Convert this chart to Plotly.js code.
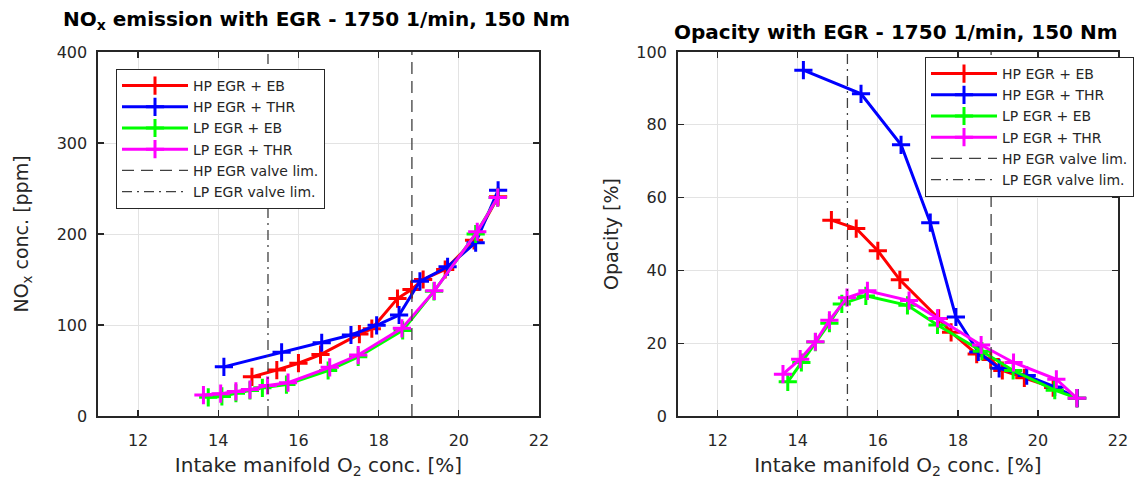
<!DOCTYPE html>
<html>
<head>
<meta charset="utf-8">
<script src="https://cdn.plot.ly/plotly-3.0.1.min.js"></script>
<style>html,body{margin:0;padding:0;background:#fff;}#chart{width:1137px;height:490px;}</style>
</head>
<body>
<div id="chart"></div>
<script>
// ---- Data ----
const seriesNames = ["HP EGR + EB", "HP EGR + THR", "LP EGR + EB", "LP EGR + THR"];
const seriesColors = ["#ff0000", "#0000ff", "#00ff00", "#ff00ff"];

// HP EGR + EB
const hpEbO2   = [14.84, 15.46, 16.00, 16.55, 17.52, 17.83, 18.47, 18.82, 19.11, 19.66, 20.38, 20.98];
const hpEbNox  = [43, 50.5, 58, 67.5, 90, 96, 129, 139, 150, 161, 193, 241];
const hpEbOpac = [53.8, 51.5, 45.4, 37.4, 26.8, 23.0, 17.0, 15.5, 12.5, 10.5, 7.8, 4.9];

// HP EGR + THR
const hpThrO2   = [14.14, 15.58, 16.58, 17.31, 17.95, 18.51, 19.03, 19.72, 20.42, 20.98];
const hpThrNox  = [54, 70, 80.5, 89, 99.6, 111, 148, 164, 190.5, 248];
const hpThrOpac = [95.0, 88.5, 74.5, 53.1, 27.2, 17.6, 13.1, 11.1, 8.0, 4.9];

// LP EGR + EB
const lpEbO2   = [13.75, 14.09, 14.44, 14.79, 15.10, 15.70, 16.74, 17.49, 18.60, 19.38, 20.42, 20.97];
const lpEbNox  = [20.5, 21.5, 25, 28, 31, 34.5, 50, 65, 94, 137, 200, 240];
const lpEbOpac = [9.4, 14.7, 20.3, 25.5, 30.8, 33.0, 30.4, 25.0, 17.8, 12.5, 7.1, 4.9];

// LP EGR + THR
const lpThrO2   = [13.63, 14.06, 14.44, 14.79, 15.23, 15.74, 16.78, 17.49, 18.58, 19.39, 20.46, 20.97];
const lpThrNox  = [23, 24.5, 27, 29, 33.5, 36.6, 53.5, 67, 96.3, 137.5, 202.5, 240];
const lpThrOpac = [11.5, 15.6, 20.4, 26.3, 32.5, 34.4, 31.7, 26.8, 19.5, 14.7, 10.1, 4.9];

// Valve limits (intake O2 conc. [%])
const limitNames = ["HP EGR valve lim.", "LP EGR valve lim."];
const hpValveLim = 18.83;
const lpValveLim = 15.24;
const noxRange = [0, 400];
const opacRange = [0, 100];

const xTicks = [12, 14, 16, 18, 20, 22];
const noxTicks = [0, 100, 200, 300, 400];
const opacTicks = [0, 20, 40, 60, 80, 100];

// ---- Build traces ----
const xs = [hpEbO2, hpThrO2, lpEbO2, lpThrO2];
const noxY = [hpEbNox, hpThrNox, lpEbNox, lpThrNox];
const opacY = [hpEbOpac, hpThrOpac, lpEbOpac, lpThrOpac];

function seriesTrace(i, y, xa, ya, leg) {
  return {
    x: xs[i], y: y, xaxis: xa, yaxis: ya, legend: leg,
    name: seriesNames[i], type: 'scatter', mode: 'lines+markers',
    line: {color: seriesColors[i], width: 3},
    marker: {symbol: 'cross-thin', size: 13, color: seriesColors[i], line: {color: seriesColors[i], width: 3}}
  };
}
function limitTrace(i, xv, range, xa, ya, leg) {
  return {
    x: [xv, xv], y: range, xaxis: xa, yaxis: ya, legend: leg,
    name: limitNames[i], type: 'scatter', mode: 'lines',
    line: {color: '#404040', width: 1.3, dash: i === 0 ? '12px,7px' : '10px,5px,2px,5px'}
  };
}

const traces = [];
for (let i = 0; i < 4; i++) traces.push(seriesTrace(i, noxY[i], 'x', 'y', 'legend'));
traces.push(limitTrace(0, hpValveLim, noxRange, 'x', 'y', 'legend'));
traces.push(limitTrace(1, lpValveLim, noxRange, 'x', 'y', 'legend'));
for (let i = 0; i < 4; i++) traces.push(seriesTrace(i, opacY[i], 'x2', 'y2', 'legend2'));
traces.push(limitTrace(0, hpValveLim, opacRange, 'x2', 'y2', 'legend2'));
traces.push(limitTrace(1, lpValveLim, opacRange, 'x2', 'y2', 'legend2'));

const W = 1137, H = 490;
const txtColor = '#262626';
const fontFam = 'DejaVu Sans, Liberation Sans, Arial, sans-serif';

function xAxis(domain, anchor) {
  return {
    domain: domain, anchor: anchor, range: [11, 22], tickvals: xTicks,
    showgrid: true, gridcolor: '#e3e3e3', gridwidth: 1, zeroline: false,
    showline: true, linecolor: txtColor, linewidth: 1.6, mirror: 'allticks',
    ticks: 'inside', ticklen: 6, tickwidth: 1.3, tickcolor: txtColor,
    tickfont: {size: 16, color: txtColor, family: fontFam}, ticklabelstandoff: 9,
    title: {text: 'Intake manifold O<sub>2</sub> conc. [%]', font: {size: 20, color: txtColor, family: fontFam}, standoff: 9},
    automargin: false, fixedrange: true
  };
}
function yAxis(domain, anchor, range, ticks, title, standoff) {
  return {
    domain: domain, anchor: anchor, range: range, tickvals: ticks,
    showgrid: true, gridcolor: '#e3e3e3', gridwidth: 1, zeroline: false,
    showline: true, linecolor: txtColor, linewidth: 1.6, mirror: 'allticks',
    ticks: 'inside', ticklen: 6, tickwidth: 1.3, tickcolor: txtColor,
    tickfont: {size: 16, color: txtColor, family: fontFam}, ticklabelstandoff: 6,
    title: {text: title, font: {size: 19, color: txtColor, family: fontFam}, standoff: standoff},
    automargin: false, fixedrange: true
  };
}

const xd1 = [98 / W, 539 / W];
const xd2 = [677.7 / W, 1118 / W];
const yd = [(H - 416) / H, (H - 52) / H];

const legendBase = {
  bgcolor: '#ffffff', bordercolor: '#262626', borderwidth: 1,
  font: {size: 14, color: txtColor, family: fontFam},
  xanchor: 'left', yanchor: 'top', itemwidth: 66, tracegroupgap: 0
};

const layout = {
  width: W, height: H,
  margin: {l: 0, r: 0, t: 0, b: 0},
  paper_bgcolor: '#ffffff', plot_bgcolor: '#ffffff',
  showlegend: true,
  xaxis: xAxis(xd1, 'y'),
  yaxis: yAxis(yd, 'x', noxRange, noxTicks, 'NO<sub>x</sub> conc. [ppm]', 23),
  xaxis2: xAxis(xd2, 'y2'),
  yaxis2: yAxis(yd, 'x2', opacRange, opacTicks, 'Opacity [%]', 13),
  legend: Object.assign({}, legendBase, {x: 116 / W, y: (H - 69) / H}),
  legend2: Object.assign({}, legendBase, {x: 925 / W, y: (H - 57) / H}),
  annotations: [
    {text: '<b>NO<sub>x</sub> emission with EGR - 1750 1/min, 150 Nm</b>', xref: 'paper', yref: 'paper',
     x: 316 / W, y: (H - 35) / H, xanchor: 'center', yanchor: 'bottom', showarrow: false,
     font: {size: 20, color: '#000000', family: fontFam}},
    {text: '<b>Opacity with EGR - 1750 1/min, 150 Nm</b>', xref: 'paper', yref: 'paper',
     x: 896 / W, y: (H - 46) / H, xanchor: 'center', yanchor: 'bottom', showarrow: false,
     font: {size: 20, color: '#000000', family: fontFam}}
  ]
};

Plotly.newPlot('chart', traces, layout, {displayModeBar: false, staticPlot: true});
</script>
</body>
</html>
